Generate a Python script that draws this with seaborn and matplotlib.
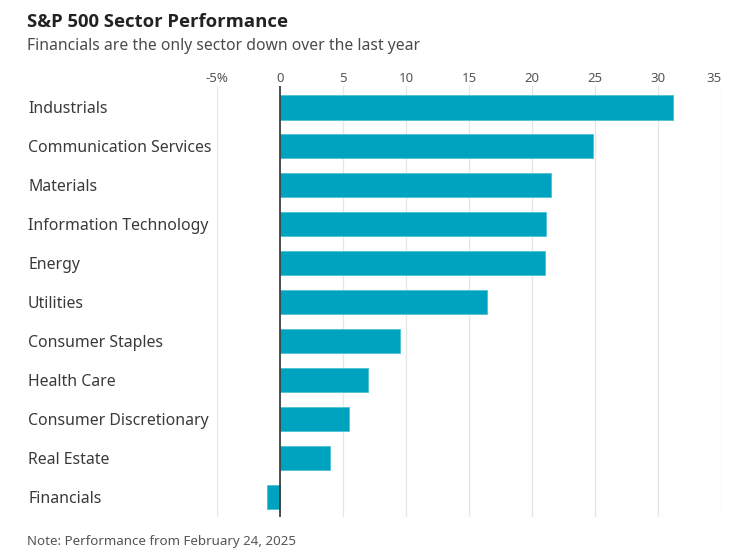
import matplotlib
matplotlib.use("Agg")
import matplotlib.pyplot as plt
import matplotlib.transforms as mtransforms
import seaborn as sns
import pandas as pd

# ── Data ──────────────────────────────────────────────────────────────────────
sectors = [
    "Industrials", "Communication Services", "Materials",
    "Information Technology", "Energy", "Utilities", "Consumer Staples",
    "Health Care", "Consumer Discretionary", "Real Estate", "Financials",
]
performance = [31.2, 24.8, 21.5, 21.1, 21.0, 16.4, 9.5, 7.0, 5.5, 4.0, -1.0]
tick_values = [-5, 0, 5, 10, 15, 20, 25, 30, 35]
tick_labels = ["-5%", "0", "5", "10", "15", "20", "25", "30", "35"]

df = pd.DataFrame({"sector": sectors, "perf": performance})

# ── Plot ──────────────────────────────────────────────────────────────────────
sns.set_theme(style="white")
plt.rcParams["font.family"] = ["Noto Sans", "DejaVu Sans"]

fig = plt.figure(figsize=(7.36, 5.5), dpi=100)
ax = fig.add_axes([0.2944, 0.06, 0.6856, 0.7836])

sns.barplot(data=df, x="perf", y="sector", orient="h", color="#00a3bf",
            saturation=1, width=0.62, edgecolor="#4fc0d4", linewidth=0.6,
            ax=ax, zorder=3)

ax.set_xlim(-5, 35)
ax.set_ylim(len(sectors) - 0.48, -0.55)
ax.set_xticks(tick_values)
ax.set_xticklabels(tick_labels)
ax.xaxis.tick_top()
ax.tick_params(axis="x", length=0, pad=1, labelsize=9.5, colors="#555555")
ax.get_xticklabels()[-1].set_ha("right")
ax.grid(axis="x", color="#e6e6e6", linewidth=0.9, zorder=0)
ax.axvline(0, color="#333333", linewidth=1.2, zorder=4)
for s in ax.spines.values():
    s.set_visible(False)

ax.set_xlabel("")
ax.set_ylabel("")
ax.set_yticks(range(len(sectors)))
ax.set_yticklabels([])
ax.tick_params(axis="y", length=0)

# sector names, left-aligned at a fixed figure x position
label_tf = mtransforms.blended_transform_factory(fig.transFigure, ax.transData)
for i, name in enumerate(sectors):
    ax.text(28 / 736, i + 0.05, name, transform=label_tf,
            fontsize=11.4, color="#3a3a3a", va="center", ha="left")

fig.text(27 / 736, 1 - 22 / 550, "S&P 500 Sector Performance",
         fontsize=13.3, fontweight="bold", color="#222222", va="center",
         family=["Open Sans", "DejaVu Sans"])
fig.text(27 / 736, 1 - 46 / 550,
         "Financials are the only sector down over the last year",
         fontsize=11.3, color="#4a4a4a", va="center")
fig.text(27 / 736, 1 - 541 / 550, "Note: Performance from February 24, 2025",
         fontsize=9.6, color="#555555", va="center")

plt.savefig("out.png", dpi=100)
